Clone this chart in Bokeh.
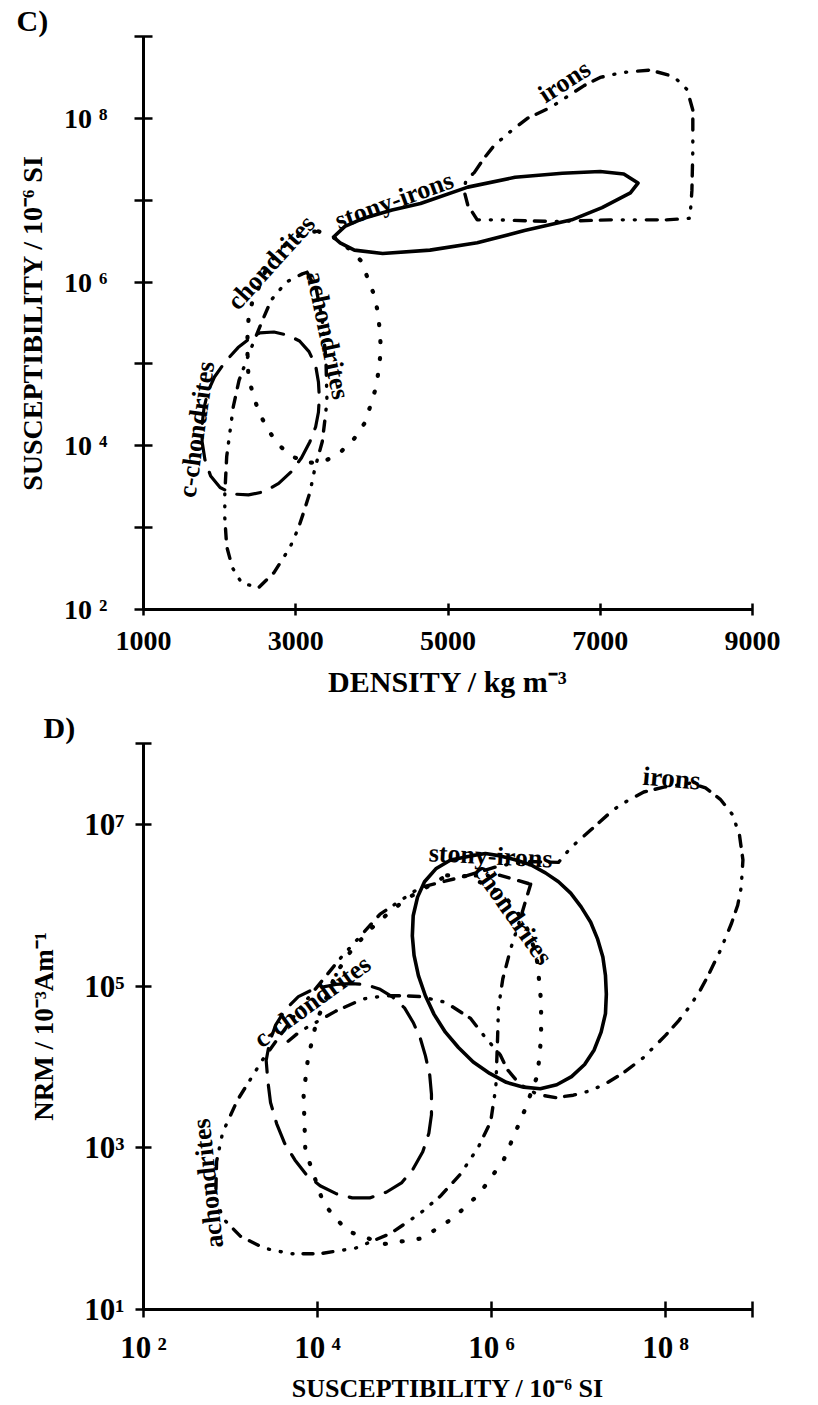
import numpy as np
from bokeh.plotting import figure
from bokeh.models import Label, FixedTicker, CustomJSTickFormatter
from bokeh.layouts import column
from bokeh.embed import file_html
from bokeh.resources import INLINE

FONT = "Liberation Serif"
SUP = str.maketrans("0123456789-", "⁰¹²³⁴⁵⁶⁷⁸⁹⁻")

# ---------------- Panel C : density vs susceptibility ----------------
C_DENSITY_TICKS = [1000, 3000, 5000, 7000, 9000]
C_CHI_TICK_EXP = [2, 3, 4, 5, 6, 7, 8, 9]
C_CHI_LABEL_EXP = [2, 4, 6, 8]

c_stony_density = [3497, 3646, 3894, 4266, 4639, 5260, 5881, 6502, 6999, 7309, 7496, 7396, 7024, 6626, 6005, 5384, 4763, 4142, 3770, 3583]
c_stony_logchi = [6.55, 6.68, 6.78, 6.88, 6.96, 7.16, 7.28, 7.33, 7.35, 7.32, 7.21, 7.09, 6.91, 6.76, 6.63, 6.48, 6.39, 6.35, 6.39, 6.48]

c_irons_density = [5347, 5471, 5608, 5794, 6043, 6341, 6589, 6788, 6999, 7285, 7657, 7968, 8142, 8216, 8216, 8204, 8179, 7869, 7123, 6378, 5633, 5384, 5260, 5210, 5235]
c_irons_logchi = [7.34, 7.51, 7.67, 7.82, 8.00, 8.13, 8.28, 8.40, 8.50, 8.56, 8.59, 8.51, 8.35, 8.10, 7.61, 7.12, 6.78, 6.76, 6.76, 6.74, 6.76, 6.76, 6.94, 7.12, 7.24]

c_chondrites_density = [3298, 3584, 3857, 3944, 4031, 4081, 4106, 4118, 4093, 4056, 3981, 3907, 3770, 3596, 3397, 3174, 2950, 2764, 2627, 2516, 2441, 2379, 2366, 2366, 2379, 2429, 2528, 2615, 2752, 2925, 3124]
c_chondrites_logchi = [6.62, 6.51, 6.26, 6.05, 5.84, 5.62, 5.38, 5.17, 4.95, 4.72, 4.49, 4.28, 4.09, 3.93, 3.82, 3.79, 3.87, 4.02, 4.21, 4.41, 4.62, 4.84, 5.09, 5.33, 5.54, 5.76, 5.96, 6.17, 6.35, 6.51, 6.61]

c_achondrites_density = [3149, 3273, 3348, 3397, 3410, 3385, 3348, 3248, 3186, 3112, 3037, 2925, 2714, 2516, 2292, 2168, 2093, 2068, 2068, 2093, 2130, 2180, 2255, 2404, 2553, 2677, 2876, 3087]
c_achondrites_logchi = [6.12, 5.90, 5.54, 5.05, 4.55, 4.33, 4.05, 3.71, 3.43, 3.21, 3.00, 2.76, 2.45, 2.27, 2.32, 2.51, 2.77, 3.12, 3.41, 3.87, 4.13, 4.48, 4.80, 5.17, 5.51, 5.78, 6.00, 6.10]

c_cchondrites_density = [2528, 2714, 2901, 3050, 3174, 3261, 3298, 3310, 3298, 3261, 3186, 3074, 2938, 2776, 2590, 2379, 2180, 2006, 1882, 1807, 1770, 1770, 1795, 1845, 1932, 2068, 2242, 2379]
c_cchondrites_logchi = [5.38, 5.39, 5.35, 5.28, 5.15, 4.98, 4.78, 4.59, 4.41, 4.23, 4.05, 3.85, 3.68, 3.54, 3.44, 3.40, 3.41, 3.49, 3.63, 3.83, 4.05, 4.26, 4.46, 4.66, 4.84, 5.02, 5.20, 5.30]

# ---------------- Panel D : susceptibility vs NRM ----------------
D_CHI_TICK_EXP = [2, 4, 6, 8, 9]
D_CHI_LABEL_EXP = [2, 4, 6, 8]
D_NRM_TICK_EXP = [1, 3, 5, 7, 8]
D_NRM_LABEL_EXP = [1, 3, 5, 7]

d_stony_logchi = [5.76, 5.93, 6.10, 6.28, 6.45, 6.62, 6.77, 6.91, 7.03, 7.14, 7.22, 7.28, 7.31, 7.32, 7.31, 7.26, 7.18, 7.07, 6.92, 6.75, 6.56, 6.37, 6.17, 5.98, 5.79, 5.62, 5.47, 5.34, 5.24, 5.16, 5.11, 5.09, 5.10, 5.15, 5.23, 5.36, 5.53]
d_stony_lognrm = [6.61, 6.64, 6.61, 6.56, 6.50, 6.40, 6.29, 6.15, 5.98, 5.79, 5.58, 5.36, 5.13, 4.90, 4.66, 4.43, 4.21, 4.03, 3.88, 3.78, 3.73, 3.75, 3.81, 3.92, 4.06, 4.24, 4.43, 4.65, 4.88, 5.13, 5.38, 5.62, 5.87, 6.10, 6.29, 6.45, 6.56]

d_irons_logchi = [5.70, 6.10, 6.45, 6.77, 6.91, 7.14, 7.40, 7.56, 7.75, 7.98, 8.29, 8.46, 8.63, 8.77, 8.85, 8.89, 8.87, 8.83, 8.76, 8.63, 8.49, 8.40, 8.28, 8.15, 8.00, 7.74, 7.52, 7.34, 7.15, 6.94, 6.74, 6.53, 6.33, 6.18, 6.10, 5.91, 5.76, 5.47, 5.18, 5.00, 4.78, 4.52, 4.21, 3.80, 3.62]
d_irons_lognrm = [6.36, 6.49, 6.54, 6.53, 6.71, 6.93, 7.18, 7.29, 7.40, 7.46, 7.51, 7.45, 7.31, 7.12, 6.87, 6.56, 6.22, 6.00, 5.78, 5.44, 5.13, 4.95, 4.75, 4.57, 4.39, 4.11, 3.93, 3.81, 3.71, 3.65, 3.62, 3.66, 3.78, 3.97, 4.15, 4.39, 4.60, 4.80, 4.87, 4.88, 4.88, 4.84, 4.69, 4.44, 4.28]

d_chondrites_logchi = [5.49, 5.70, 5.99, 6.16, 6.30, 6.41, 6.48, 6.53, 6.55, 6.57, 6.57, 6.53, 6.38, 6.14, 5.86, 5.56, 5.20, 4.77, 4.34, 4.07, 3.86, 3.84, 3.89, 3.99, 4.07, 4.21, 4.40, 4.67, 5.01]
d_chondrites_lognrm = [6.37, 6.36, 6.23, 6.10, 5.91, 5.71, 5.50, 5.28, 5.03, 4.81, 4.36, 3.90, 3.46, 2.85, 2.43, 2.13, 1.88, 1.81, 1.97, 2.31, 2.97, 3.66, 4.10, 4.57, 4.77, 5.15, 5.46, 5.77, 6.07]

d_achondrites_logchi = [6.45, 6.33, 6.22, 6.13, 6.08, 6.07, 6.05, 5.99, 5.85, 5.64, 5.41, 5.18, 4.84, 4.44, 4.03, 3.69, 3.38, 3.11, 2.91, 2.83, 2.84, 2.91, 3.08, 3.37, 3.80, 4.26, 4.72, 5.18, 5.70, 6.10]
d_achondrites_lognrm = [6.26, 5.83, 5.46, 5.09, 4.73, 4.36, 3.75, 3.32, 3.01, 2.67, 2.40, 2.19, 1.94, 1.76, 1.69, 1.69, 1.76, 1.91, 2.13, 2.40, 2.83, 3.19, 3.59, 4.09, 4.73, 5.34, 5.89, 6.22, 6.36, 6.37]

d_cchondrites_logchi = [4.21, 4.38, 4.55, 4.72, 4.87, 5.00, 5.10, 5.18, 5.24, 5.29, 5.31, 5.31, 5.28, 5.21, 5.10, 4.97, 4.79, 4.60, 4.40, 4.22, 4.03, 3.87, 3.74, 3.62, 3.53, 3.46, 3.43, 3.41, 3.45, 3.52, 3.63, 3.78, 3.97]
d_cchondrites_lognrm = [5.02, 5.03, 5.02, 4.96, 4.86, 4.73, 4.55, 4.36, 4.14, 3.90, 3.66, 3.41, 3.18, 2.95, 2.74, 2.57, 2.45, 2.38, 2.38, 2.43, 2.53, 2.67, 2.85, 3.06, 3.30, 3.56, 3.82, 4.08, 4.31, 4.52, 4.71, 4.87, 4.97]

# ---------------- line styles ----------------
STYLE = {
    "stony": dict(line_width=3.6, line_dash="solid"),
    "irons": dict(line_width=3.4, line_dash="11 9 11 11 1 11 1 11"),
    "chondrites": dict(line_width=4.2, line_dash="1 16"),
    "achondrites": dict(line_width=3.4, line_dash="10 10 10 10 1 11 1 11 1 11"),
    "cchondrites": dict(line_width=3.2, line_dash="24 13"),
}


def outline(p, xs, ys, style, closed=True):
    xs = list(xs)
    ys = list(ys)
    if closed:
        xs = xs + [xs[0]]
        ys = ys + [ys[0]]
    p.line(xs, ys, line_color="black", line_cap="round", line_join="round", **STYLE[style])


def lab(p, x, y, text, size, angle=0):
    p.add_layout(Label(x=x, y=y, text=text, angle=angle, angle_units="deg",
                       text_align="center", text_baseline="middle",
                       text_font=FONT, text_font_style="bold", text_font_size=f"{size}px",
                       text_color="black"))


def power_formatter(exps, gap):
    texts = ["10" + gap + str(e).translate(SUP) for e in exps]
    return CustomJSTickFormatter(args=dict(exps=list(exps), texts=texts), code="""
        const e = Math.round(Math.log10(tick));
        for (let i = 0; i < exps.length; i++) { if (exps[i] == e) return texts[i]; }
        return "";
    """)


def style_fig(p, letter):
    p.grid.visible = False
    p.outline_line_color = None
    p.title.text = letter
    p.title.align = "left"
    p.title.text_font = FONT
    p.title.text_font_style = "bold"
    p.title.text_font_size = "30px"
    p.title.text_color = "black"
    p.title.standoff = 0
    for ax in p.axis:
        ax.axis_line_width = 3
        ax.axis_line_color = "black"
        ax.major_tick_line_width = 2.5
        ax.major_tick_line_color = "black"
        ax.minor_tick_line_color = None
        ax.major_tick_in = 9
        ax.major_tick_out = 9
        ax.major_label_text_font = FONT
        ax.major_label_text_font_style = "bold"
        ax.major_label_text_color = "black"
        ax.axis_label_text_font = FONT
        ax.axis_label_text_font_style = "bold"
        ax.axis_label_text_color = "black"
        ax.axis_label_text_font_size = "27px"


# ---------------- figure C ----------------
pc = figure(width=818, height=700, x_range=(1000, 9000), y_range=(1e2, 1e9),
            y_axis_type="log", output_backend="svg", toolbar_location=None,
            min_border_left=127, min_border_right=47, min_border_top=36, min_border_bottom=90,
            background_fill_color="white", border_fill_color="white")
style_fig(pc, "C)")
pc.title.offset = -127
pc.xaxis.ticker = FixedTicker(ticks=C_DENSITY_TICKS, minor_ticks=[])
pc.xaxis.major_tick_in = 6
pc.xaxis.major_tick_out = 6
pc.xaxis.major_label_standoff = 16
pc.xaxis.major_label_text_font_size = "28px"
pc.xaxis.axis_label = "DENSITY / kg m⁻³"
pc.xaxis.axis_label_text_font_size = "30px"
pc.xaxis.axis_label_standoff = 12
pc.yaxis.ticker = FixedTicker(ticks=[10.0 ** e for e in C_CHI_TICK_EXP], minor_ticks=[])
pc.yaxis.formatter = power_formatter(C_CHI_LABEL_EXP, " ")
pc.yaxis.major_label_text_font_size = "28px"
pc.yaxis.major_label_standoff = 27
pc.yaxis.axis_label = "SUSCEPTIBILITY / 10⁻⁶ SI"
pc.yaxis.axis_label_text_font_size = "28px"
pc.yaxis.axis_label_standoff = 13

outline(pc, c_stony_density, [10 ** v for v in c_stony_logchi], "stony")
outline(pc, c_irons_density, [10 ** v for v in c_irons_logchi], "irons")
outline(pc, c_chondrites_density, [10 ** v for v in c_chondrites_logchi], "chondrites")
outline(pc, c_achondrites_density, [10 ** v for v in c_achondrites_logchi], "achondrites")
outline(pc, c_cchondrites_density, [10 ** v for v in c_cchondrites_logchi], "cchondrites")

lab(pc, 4292, 10 ** 7.00, "stony-irons", 26, angle=20)
lab(pc, 6528, 10 ** 8.45, "irons", 26, angle=33)
lab(pc, 2677, 10 ** 6.24, "chondrites", 26, angle=48)
lab(pc, 3422, 10 ** 5.35, "achondrites", 26, angle=-78)
lab(pc, 1696, 10 ** 4.20, "c-chondrites", 26, angle=82)

# ---------------- figure D ----------------
pd = figure(width=818, height=705, x_range=(1e2, 1e9), y_range=(1e1, 1e8),
            x_axis_type="log", y_axis_type="log", output_backend="svg", toolbar_location=None,
            min_border_left=143, min_border_right=66, min_border_top=43, min_border_bottom=91,
            background_fill_color="white", border_fill_color="white")
style_fig(pd, "D)")
pd.title.offset = -100
pd.xaxis.ticker = FixedTicker(ticks=[10.0 ** e for e in D_CHI_TICK_EXP], minor_ticks=[])
pd.yaxis.ticker = FixedTicker(ticks=[10.0 ** e for e in D_NRM_TICK_EXP], minor_ticks=[])
pd.xaxis.formatter = power_formatter(D_CHI_LABEL_EXP, "\u2009")
pd.yaxis.formatter = power_formatter(D_NRM_LABEL_EXP, "")
pd.xaxis.major_tick_in = 8
pd.xaxis.major_tick_out = 8
pd.yaxis.major_tick_in = 8
pd.yaxis.major_tick_out = 8
pd.xaxis.major_label_text_font_size = "31px"
pd.yaxis.major_label_text_font_size = "31px"
pd.xaxis.major_label_standoff = 12
pd.yaxis.major_label_standoff = 11
pd.xaxis.axis_label = "SUSCEPTIBILITY / 10⁻⁶ SI"
pd.xaxis.axis_label_text_font_size = "26px"
pd.xaxis.axis_label_standoff = 6
pd.yaxis.axis_label = "NRM / 10⁻³Am⁻¹"
pd.yaxis.axis_label_standoff = 22

outline(pd, [10 ** v for v in d_stony_logchi], [10 ** v for v in d_stony_lognrm], "stony")
outline(pd, [10 ** v for v in d_irons_logchi], [10 ** v for v in d_irons_lognrm], "irons", closed=False)
outline(pd, [10 ** v for v in d_chondrites_logchi], [10 ** v for v in d_chondrites_lognrm], "chondrites")
outline(pd, [10 ** v for v in d_achondrites_logchi], [10 ** v for v in d_achondrites_lognrm], "achondrites")
outline(pd, [10 ** v for v in d_cchondrites_logchi], [10 ** v for v in d_cchondrites_lognrm], "cchondrites")

lab(pd, 10 ** 8.07, 10 ** 7.57, "irons", 27, angle=-5)
lab(pd, 10 ** 5.99, 10 ** 6.61, "stony-irons", 26, angle=-3)
lab(pd, 10 ** 6.25, 10 ** 5.89, "chondrites", 26, angle=-55)
lab(pd, 10 ** 3.94, 10 ** 4.81, "c-chondrites", 26, angle=36)
lab(pd, 10 ** 2.74, 10 ** 2.56, "achondrites", 26, angle=96)

layout = column(pc, pd)
open("out.html", "w").write(file_html(layout, INLINE))
